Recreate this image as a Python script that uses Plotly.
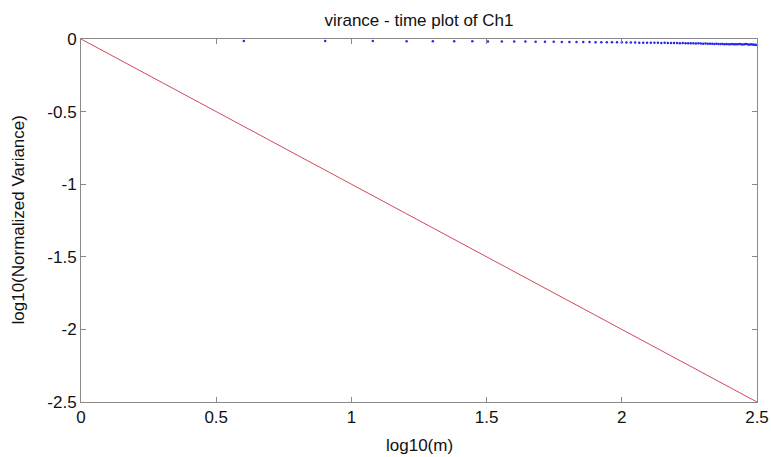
import numpy as np
import plotly.graph_objects as go

# window sizes m (data points at m = 4, 8, ..., 316)
m_values = [4, 8, 12, 16, 20, 24, 28, 32, 36, 40,
            44, 48, 52, 56, 60, 64, 68, 72, 76, 80,
            84, 88, 92, 96, 100, 104, 108, 112, 116, 120,
            124, 128, 132, 136, 140, 144, 148, 152, 156, 160,
            164, 168, 172, 176, 180, 184, 188, 192, 196, 200,
            204, 208, 212, 216, 220, 224, 228, 232, 236, 240,
            244, 248, 252, 256, 260, 264, 268, 272, 276, 280,
            284, 288, 292, 296, 300, 304, 308, 312, 316]

# log10 of normalized variance
log_var = [-0.013, -0.014, -0.014, -0.015, -0.015, -0.016, -0.016, -0.017, -0.017, -0.018,
           -0.018, -0.019, -0.019, -0.019, -0.020, -0.020, -0.021, -0.021, -0.021, -0.022,
           -0.022, -0.022, -0.023, -0.023, -0.023, -0.024, -0.024, -0.024, -0.025, -0.025,
           -0.025, -0.026, -0.026, -0.025, -0.027, -0.026, -0.027, -0.028, -0.027, -0.028,
           -0.029, -0.028, -0.029, -0.030, -0.029, -0.030, -0.031, -0.030, -0.031, -0.032,
           -0.031, -0.033, -0.032, -0.033, -0.034, -0.033, -0.035, -0.034, -0.035, -0.036,
           -0.034, -0.036, -0.037, -0.035, -0.036, -0.037, -0.036, -0.035, -0.037, -0.038,
           -0.036, -0.035, -0.037, -0.039, -0.036, -0.038, -0.040, -0.039, -0.042]

# reference line (slope -1)
ref_x = [0, 2.5]
ref_y = [0, -2.5]

x_ticks = [0, 0.5, 1, 1.5, 2, 2.5]
x_tick_labels = ["0", "0.5", "1", "1.5", "2", "2.5"]
y_ticks = [0, -0.5, -1, -1.5, -2, -2.5]
y_tick_labels = ["0", "-0.5", "-1", "-1.5", "-2", "-2.5"]

assert len(m_values) == len(log_var)
log_m = np.log10(np.array(m_values, dtype=float))

FONT = "Liberation Sans, Arial, sans-serif"
AXIS_COLOR = "#8a8a8a"
TEXT_COLOR = "#111111"
W, H = 771, 457
L, R, T, B = 81, 14, 39, 55
PW, PH = W - L - R, H - T - B

fig = go.Figure()
fig.add_trace(go.Scatter(
    x=log_m, y=log_var, mode="markers",
    marker=dict(color="rgb(40,40,235)", size=2.5, line=dict(width=0)),
    showlegend=False, hoverinfo="skip"))
fig.add_trace(go.Scatter(
    x=ref_x, y=ref_y, mode="lines",
    line=dict(color="rgb(215,70,90)", width=1),
    showlegend=False, hoverinfo="skip"))

axis_common = dict(
    showgrid=False, zeroline=False, showline=True, linecolor=AXIS_COLOR, linewidth=1,
    mirror="ticks", ticks="inside", ticklen=5, tickcolor=AXIS_COLOR, tickwidth=1,
    tickfont=dict(family=FONT, size=17, color=TEXT_COLOR), automargin=False,
    ticklabeloverflow="allow",
)

fig.update_layout(
    width=W, height=H,
    margin=dict(l=L, r=R, t=T, b=B),
    paper_bgcolor="white", plot_bgcolor="white",
    title=dict(text="virance - time plot of Ch1", x=(L + PW / 2) / W, xanchor="center",
               y=1 - 20 / H, yanchor="middle",
               font=dict(family=FONT, size=17, color=TEXT_COLOR)),
    xaxis=dict(range=[0, 2.5], tickvals=x_ticks, ticktext=x_tick_labels, **axis_common),
    yaxis=dict(range=[-2.5, 0], tickvals=y_ticks, ticktext=y_tick_labels, **axis_common),
    annotations=[
        dict(text="log10(m)", xref="paper", yref="paper", x=0.5,
             y=-(445 - (T + PH)) / PH,
             xanchor="center", yanchor="middle", showarrow=False,
             font=dict(family=FONT, size=17, color=TEXT_COLOR)),
        dict(text="log10(Normalized Variance)", xref="paper", yref="paper",
             x=-(L - 18) / PW, y=0.5, textangle=-90,
             xanchor="center", yanchor="middle", showarrow=False,
             font=dict(family=FONT, size=17, color=TEXT_COLOR)),
    ],
)

fig.write_html(
    "out.html",
    config={"displayModeBar": False},
    post_script="document.body.style.margin='0';document.body.style.overflow='hidden';",
)
